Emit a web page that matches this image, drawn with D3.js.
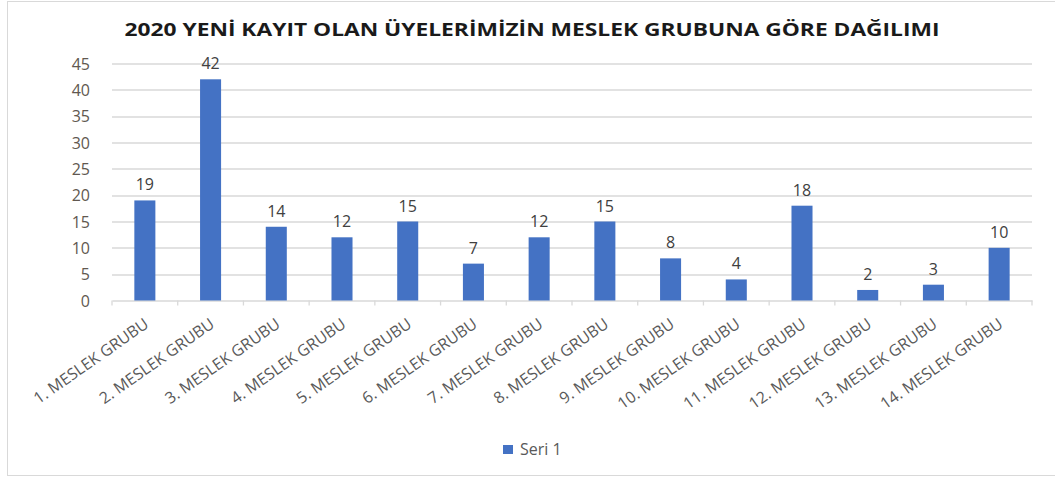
<!DOCTYPE html>
<html>
<head>
<meta charset="utf-8">
<script src="https://cdn.jsdelivr.net/npm/d3@7"></script>
<style>
  body { margin: 0; background: #fff; }
  text { font-family: "Open Sans", "Noto Sans", sans-serif; }
</style>
</head>
<body>
<div id="chart"></div>
<script>
// Chart data
var chartTitle = "2020 YENİ KAYIT OLAN ÜYELERİMİZİN MESLEK GRUBUNA GÖRE DAĞILIMI";
var categories = ["1. MESLEK GRUBU", "2. MESLEK GRUBU", "3. MESLEK GRUBU", "4. MESLEK GRUBU",
  "5. MESLEK GRUBU", "6. MESLEK GRUBU", "7. MESLEK GRUBU", "8. MESLEK GRUBU",
  "9. MESLEK GRUBU", "10. MESLEK GRUBU", "11. MESLEK GRUBU", "12. MESLEK GRUBU",
  "13. MESLEK GRUBU", "14. MESLEK GRUBU"];
var seriesName = "Seri 1";
var values = [19, 42, 14, 12, 15, 7, 12, 15, 8, 4, 18, 2, 3, 10];
var yTicks = [0, 5, 10, 15, 20, 25, 30, 35, 40, 45];

// SVG area
var svgWidth = 1055;
var svgHeight = 477;

var margin = { top: 63.5, right: 23, bottom: 176.5, left: 112 };
var chartWidth = svgWidth - margin.left - margin.right;
var chartHeight = svgHeight - margin.top - margin.bottom;

var svg = d3.select("#chart")
  .append("svg")
  .attr("width", svgWidth)
  .attr("height", svgHeight);

// outer chart border
svg.append("rect")
  .attr("x", 7.5)
  .attr("y", 1.5)
  .attr("width", 1060)
  .attr("height", 474)
  .attr("fill", "none")
  .attr("stroke", "#d9d9d9")
  .attr("stroke-width", 1);

// title
var title = svg.append("text")
  .attr("x", 532)
  .attr("y", 36)
  .attr("text-anchor", "middle")
  .style("font-size", "17px")
  .style("font-weight", "bold")
  .style("fill", "#1a1a1a")
  .text(chartTitle);
var tw = title.node().getComputedTextLength();
if (Math.abs(tw - 815) > 4) {
  title.attr("textLength", 815).attr("lengthAdjust", "spacingAndGlyphs");
}

var chartGroup = svg.append("g")
  .attr("transform", `translate(${margin.left}, ${margin.top})`);

// scales
var xBandScale = d3.scaleBand()
  .domain(categories)
  .range([0, chartWidth])
  .paddingInner(0.68)
  .paddingOuter(0.34);

var yLinearScale = d3.scaleLinear()
  .domain([0, 45])
  .range([chartHeight, 0]);

// gridlines
chartGroup.append("g")
  .selectAll("line")
  .data(yTicks.filter(d => d > 0))
  .enter()
  .append("line")
  .attr("x1", 0)
  .attr("x2", chartWidth)
  .attr("y1", d => Math.round(yLinearScale(d)) + 0.5)
  .attr("y2", d => Math.round(yLinearScale(d)) + 0.5)
  .attr("stroke", "#d9d9d9")
  .attr("stroke-width", 1.3);

// left axis (labels only)
var leftAxis = d3.axisLeft(yLinearScale).tickValues(yTicks).tickSize(0).tickPadding(22);
var yAxisG = chartGroup.append("g").call(leftAxis);
yAxisG.select(".domain").remove();
yAxisG.selectAll("text")
  .style("font-size", "16px")
  .style("fill", "#615850")
  .attr("dy", "0.36em");

// bottom axis with ticks at band edges
var bottomAxis = d3.axisBottom(xBandScale).tickSize(0);
var xAxisG = chartGroup.append("g")
  .attr("transform", `translate(0, ${chartHeight})`)
  .call(bottomAxis);
xAxisG.select(".domain")
  .attr("stroke", "#d9d9d9")
  .attr("stroke-width", 1.3);
xAxisG.selectAll("text")
  .style("font-size", "16px")
  .style("fill", "#595959")
  .style("text-anchor", "end")
  .attr("x", 0)
  .attr("y", 0)
  .attr("dy", "0")
  .attr("transform", "translate(5, 26) rotate(-35)");

var step = xBandScale.step();
chartGroup.append("g")
  .selectAll("line")
  .data(d3.range(categories.length + 1))
  .enter()
  .append("line")
  .attr("x1", i => i * step)
  .attr("x2", i => i * step)
  .attr("y1", chartHeight)
  .attr("y2", chartHeight + 5)
  .attr("stroke", "#d9d9d9")
  .attr("stroke-width", 1.3);

// bars
chartGroup.selectAll(".bar")
  .data(values)
  .enter()
  .append("rect")
  .attr("class", "bar")
  .attr("x", (d, i) => xBandScale(categories[i]))
  .attr("y", d => yLinearScale(d))
  .attr("width", xBandScale.bandwidth())
  .attr("height", d => chartHeight - yLinearScale(d))
  .attr("fill", "#4472c4");

// value labels
chartGroup.selectAll(".value")
  .data(values)
  .enter()
  .append("text")
  .attr("class", "value")
  .attr("x", (d, i) => xBandScale(categories[i]) + xBandScale.bandwidth() / 2)
  .attr("y", d => yLinearScale(d) - 10)
  .attr("text-anchor", "middle")
  .style("font-size", "16px")
  .style("fill", "#404040")
  .text(d => d);

// legend
var legend = svg.append("g")
  .attr("transform", "translate(503, 445)");
legend.append("rect")
  .attr("width", 10)
  .attr("height", 9)
  .attr("fill", "#4472c4");
legend.append("text")
  .attr("x", 17)
  .attr("y", 4.5)
  .attr("dy", "0.36em")
  .style("font-size", "16px")
  .style("fill", "#595959")
  .text(seriesName);
</script>
</body>
</html>
